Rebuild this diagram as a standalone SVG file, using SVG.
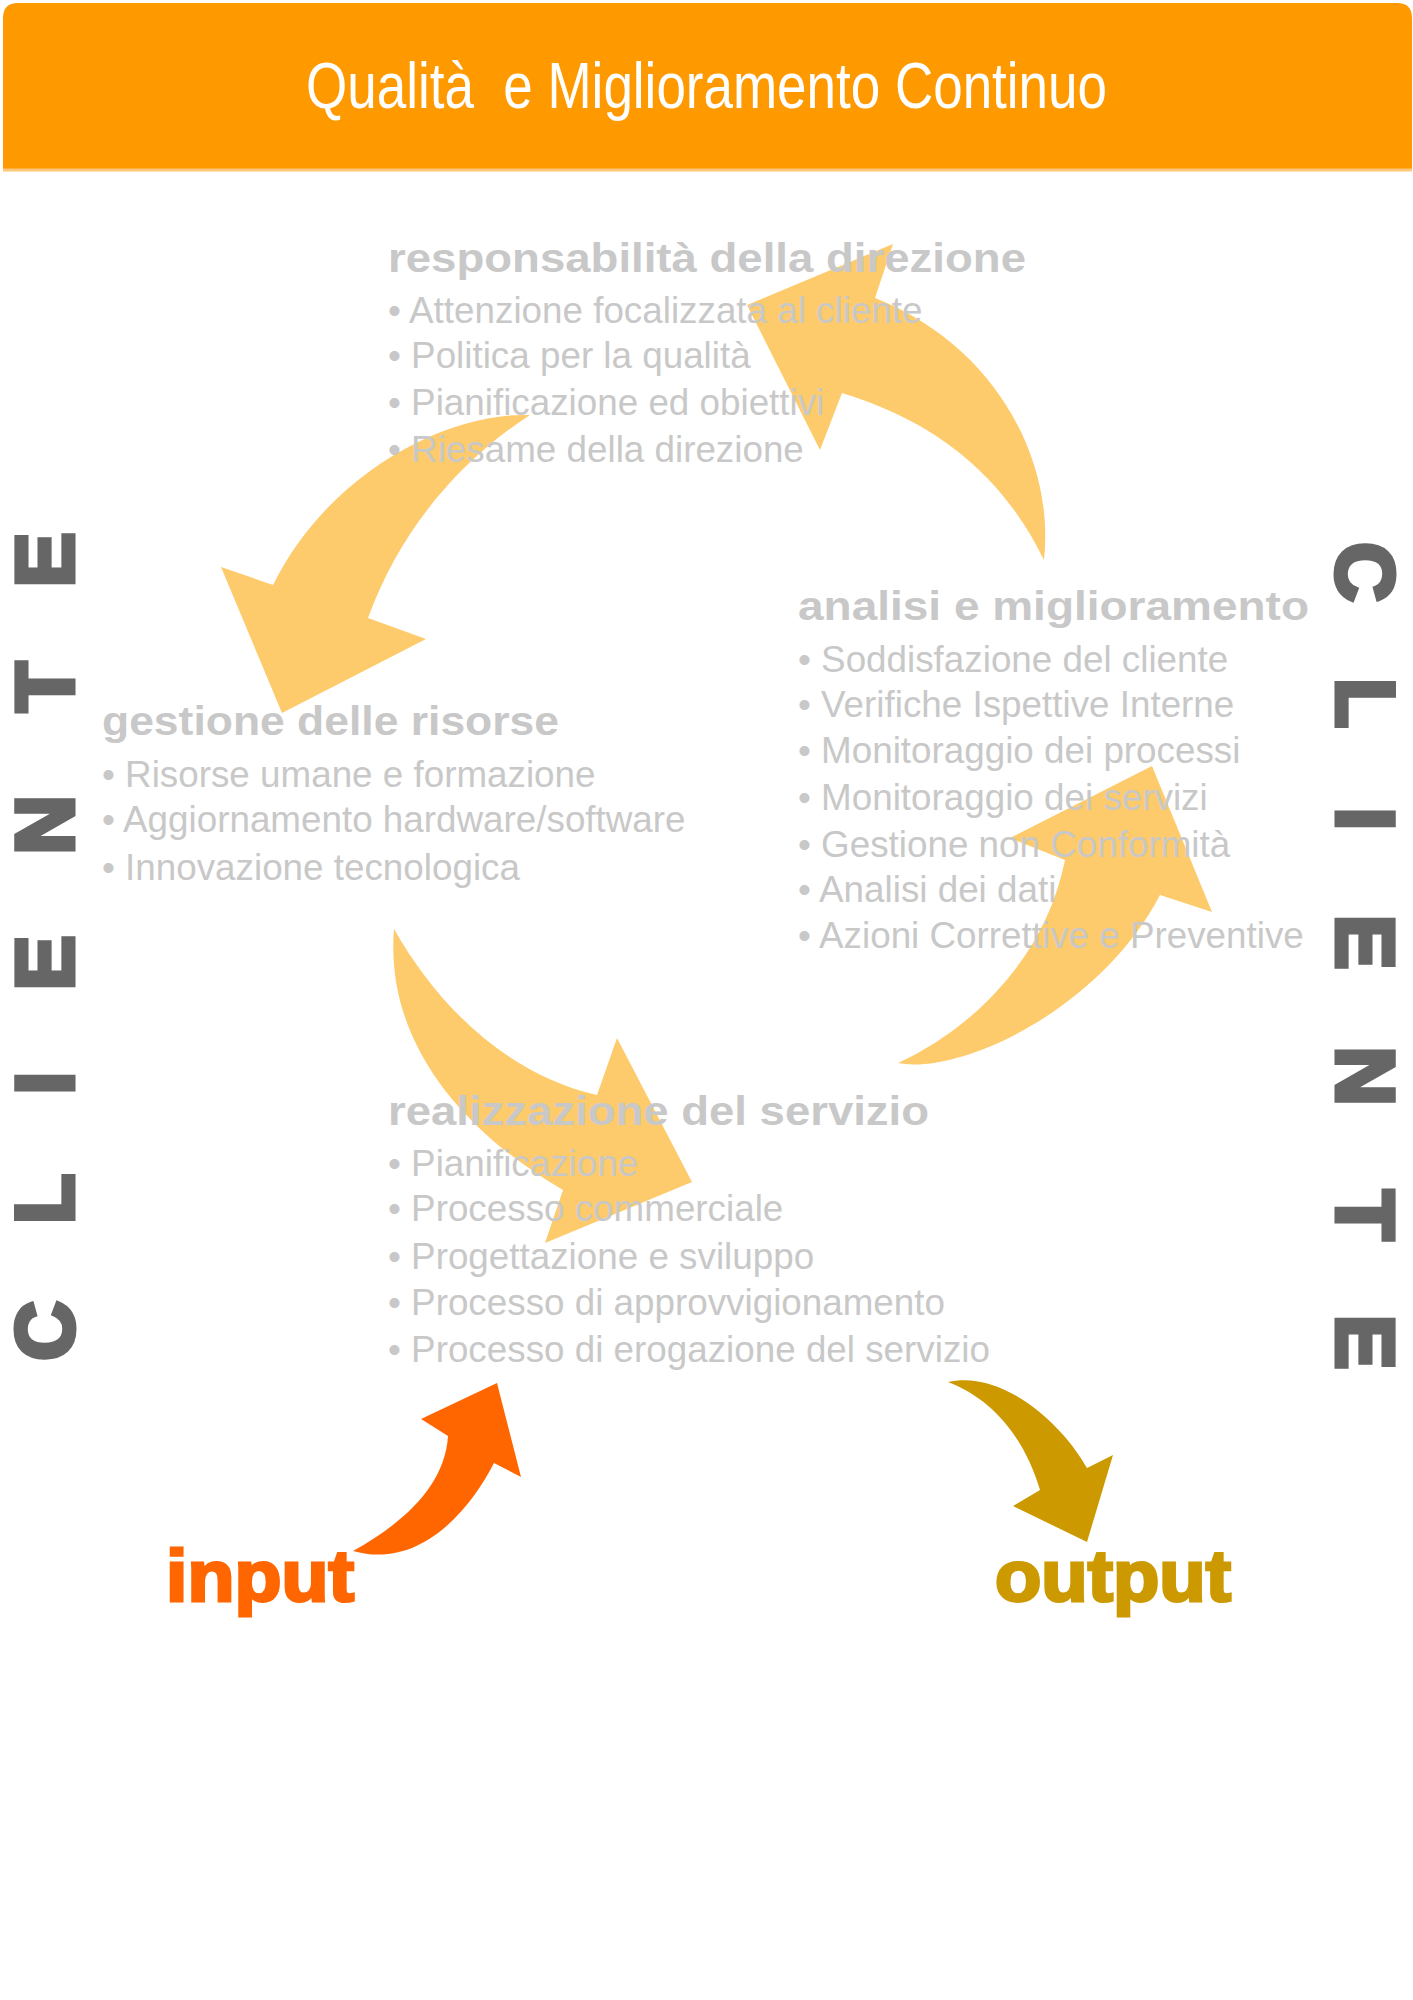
<svg xmlns="http://www.w3.org/2000/svg" width="1413" height="2000" viewBox="0 0 1413 2000">
<style>
.title{font-family:"Liberation Sans Narrow","Liberation Sans",Arial,sans-serif;font-size:64px;fill:#ffffff;white-space:pre}
.head{font-family:"Liberation Sans",Arial,sans-serif;font-weight:bold;font-size:40px;fill:#c8c8c8}
.item{font-family:"Liberation Sans",Arial,sans-serif;font-size:36.8px;fill:#c8c8c8}
.cl{font-family:"Liberation Sans",Arial,sans-serif;font-weight:bold;font-size:82px;fill:#666666;stroke:#666666;stroke-width:5;stroke-linejoin:miter;text-anchor:middle}
.cyc{fill:#fdcb6b}
.io{font-family:"Liberation Sans",Arial,sans-serif;font-weight:bold;font-size:72px;stroke-width:3}
</style>
<rect width="1413" height="2000" fill="#ffffff"/>
<g id="title">
<path d="M3 170 V18 Q3 3 18 3 H1397 Q1412 3 1412 18 V170 Z" fill="#ff9900"/>
<line x1="3" y1="170" x2="1412" y2="170" stroke="#ffc878" stroke-width="3"/>
<text class="title" x="306" y="108" textLength="801" lengthAdjust="spacingAndGlyphs">Qualità  e Miglioramento Continuo</text>
</g>
<g id="connectors">
<path class="cyc" d="M1044 560 C1055 460 995 345 875 298 L893 244 L747 305 L820 450 L842 393 C930 420 1000 470 1044 560 Z"/>
<path class="cyc" d="M530 415 C450 412 330 470 273 585 L221 567 L282 713 L426 639 L368 618 C400 530 460 460 530 415 Z"/>
<path class="cyc" d="M394 929 C440 1010 510 1075 597 1095 L617 1038 L692 1182 L545 1243 L563 1190 C460 1130 385 1040 394 929 Z"/>
<path class="cyc" d="M898 1063 C960 1075 1100 1010 1160 895 L1212 912 L1152 766 L1010 838 L1065 860 C1045 960 970 1030 898 1063 Z"/>
<path fill="#ff6600" d="M353 1551 C405 1522 445 1485 448 1436 L421 1419 L497 1383 L521 1477 L494 1463 C470 1510 420 1570 353 1551 Z"/>
<path fill="#cc9900" d="M948 1382 C1000 1370 1060 1420 1087 1468 L1113 1455 L1087 1542 L1013 1506 L1040 1490 C1025 1440 995 1400 948 1382 Z"/>
</g>
<g id="node-responsabilita">
<text class="head" x="388" y="272" textLength="638" lengthAdjust="spacingAndGlyphs">responsabilità della direzione</text>
<text class="item" x="388" y="323">• Attenzione focalizzata al cliente</text>
<text class="item" x="388" y="368">• Politica per la qualità</text>
<text class="item" x="388" y="415">• Pianificazione ed obiettivi</text>
<text class="item" x="388" y="462">• Riesame della direzione</text>
</g>
<g id="node-analisi">
<text class="head" x="798" y="620" textLength="511" lengthAdjust="spacingAndGlyphs">analisi e miglioramento</text>
<text class="item" x="798" y="672">• Soddisfazione del cliente</text>
<text class="item" x="798" y="717">• Verifiche Ispettive Interne</text>
<text class="item" x="798" y="763">• Monitoraggio dei processi</text>
<text class="item" x="798" y="810">• Monitoraggio dei servizi</text>
<text class="item" x="798" y="857">• Gestione non Conformità</text>
<text class="item" x="798" y="902">• Analisi dei dati</text>
<text class="item" x="798" y="948">• Azioni Correttive e Preventive</text>
</g>
<g id="node-gestione">
<text class="head" x="102" y="735" textLength="457" lengthAdjust="spacingAndGlyphs">gestione delle risorse</text>
<text class="item" x="102" y="787">• Risorse umane e formazione</text>
<text class="item" x="102" y="832">• Aggiornamento hardware/software</text>
<text class="item" x="102" y="880">• Innovazione tecnologica</text>
</g>
<g id="node-realizzazione">
<text class="head" x="388" y="1125" textLength="541" lengthAdjust="spacingAndGlyphs">realizzazione del servizio</text>
<text class="item" x="388" y="1176">• Pianificazione</text>
<text class="item" x="388" y="1221">• Processo commerciale</text>
<text class="item" x="388" y="1269">• Progettazione e sviluppo</text>
<text class="item" x="388" y="1315">• Processo di approvvigionamento</text>
<text class="item" x="388" y="1362">• Processo di erogazione del servizio</text>
</g>
<g id="cliente-left">
<text class="cl" transform="translate(73,1331) rotate(-90)">C</text>
<text class="cl" transform="translate(73,1199) rotate(-90)">L</text>
<text class="cl" transform="translate(73,1083) rotate(-90)">I</text>
<text class="cl" transform="translate(73,963) rotate(-90)">E</text>
<text class="cl" transform="translate(73,825) rotate(-90)">N</text>
<text class="cl" transform="translate(73,687) rotate(-90)">T</text>
<text class="cl" transform="translate(73,560) rotate(-90)">E</text>
</g>
<g id="cliente-right">
<text class="cl" transform="translate(1337,572) rotate(90)">C</text>
<text class="cl" transform="translate(1337,703) rotate(90)">L</text>
<text class="cl" transform="translate(1337,819) rotate(90)">I</text>
<text class="cl" transform="translate(1337,942) rotate(90)">E</text>
<text class="cl" transform="translate(1337,1076) rotate(90)">N</text>
<text class="cl" transform="translate(1337,1215) rotate(90)">T</text>
<text class="cl" transform="translate(1337,1342) rotate(90)">E</text>
</g>
<g id="input">
<text class="io" x="166" y="1601" textLength="188" lengthAdjust="spacingAndGlyphs" fill="#ff6600" stroke="#ff6600">input</text>
</g>
<g id="output">
<text class="io" x="995" y="1601" textLength="236" lengthAdjust="spacingAndGlyphs" fill="#cc9900" stroke="#cc9900">output</text>
</g>
</svg>
